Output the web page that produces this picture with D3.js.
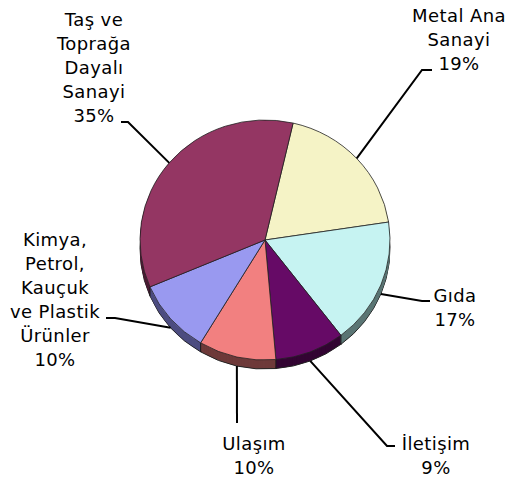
<!DOCTYPE html>
<html>
<head>
<meta charset="utf-8">
<script src="https://cdn.jsdelivr.net/npm/d3@7"></script>
<style>
	body { margin: 0; background: #fff; }
	text { font-family: "DejaVu Sans", Verdana, sans-serif; font-size: 18px; fill: #000; letter-spacing: 0.4px; }
</style>
</head>
<body>
<svg id="svg_pie" width="510" height="479"></svg>
<script>
// slices, clockwise from the top-right
var categories = ["Metal Ana Sanayi", "Gıda", "İletişim", "Ulaşım",
	"Kimya, Petrol, Kauçuk ve Plastik Ürünler", "Taş ve Toprağa Dayalı Sanayi"];
var values = [19, 17, 9, 10, 10, 35];
var labelLines = [
	["Metal Ana", "Sanayi"],
	["Gıda"],
	["İletişim"],
	["Ulaşım"],
	["Kimya,", "Petrol,", "Kauçuk", "ve Plastik", "Ürünler"],
	["Taş ve", "Toprağa", "Dayalı", "Sanayi"]
];
var topColors = ["#F5F3C6", "#C6F3F2", "#660A66", "#F28080", "#9999F0", "#943663"];
var sideColors = ["#7A7963", "#5A7574", "#330533", "#6E3A3A", "#4C4C80", "#4A1B33"];

// label placement: text centre x, first baseline, leader elbow and end
var labelPos = [
	{ x: 459, y: 22, elbow: [422, 70], end: [432, 70] },
	{ x: 455, y: 302, elbow: [422, 301], end: [430, 301] },
	{ x: 436, y: 450, elbow: [387, 446], end: [395, 446] },
	{ x: 254, y: 450, elbow: [237, 423], end: [237, 423] },
	{ x: 55, y: 246, elbow: [115, 318], end: [106, 318] },
	{ x: 94, y: 26, elbow: [128, 122], end: [121, 122] }
];

var svg = d3.select("#svg_pie"),
	cx = 265, cy = 240,
	rx = 125, ry = 120,
	depth = 9,
	lineH = 24;

var start = 13 * Math.PI / 180;
var pie = d3.pie().sort(null).value(function(d) { return d; })
	.startAngle(start).endAngle(start + 2 * Math.PI);
var arcs = pie(values);
var arc = d3.arc().innerRadius(0).outerRadius(ry);

function edge(a, dy) {
	return [cx + rx * Math.sin(a), cy - ry * Math.cos(a) + (dy || 0)];
}

// side of the pie: stacked copies shifted down
for (var k = depth; k >= 1; --k) {
	var g = svg.append("g")
		.attr("transform", "translate(" + cx + "," + (cy + k) + ") scale(" + (rx / ry) + ",1)");
	g.selectAll("path").data(arcs).enter().append("path")
		.attr("d", arc)
		.attr("fill", function(d, i) { return sideColors[i]; })
		.attr("stroke", k == depth ? "#222" : "none")
		.attr("stroke-width", 1)
		.attr("vector-effect", "non-scaling-stroke");
}

// dark seams between slices on the visible side
arcs.forEach(function(d) {
	var a = d.startAngle;
	if (Math.cos(a) < 0.1) {
		var p = edge(a);
		svg.append("line")
			.attr("x1", p[0]).attr("y1", p[1])
			.attr("x2", p[0]).attr("y2", p[1] + depth)
			.attr("stroke", "#1a1a1a").attr("stroke-width", 1);
	}
});

// top face
var topFace = svg.append("g")
	.attr("transform", "translate(" + cx + "," + cy + ") scale(" + (rx / ry) + ",1)");
topFace.selectAll("path").data(arcs).enter().append("path")
	.attr("d", arc)
	.attr("fill", function(d, i) { return topColors[i]; })
	.attr("stroke", "#222")
	.attr("stroke-width", 0.8)
	.attr("vector-effect", "non-scaling-stroke");

// leader lines
var leader = d3.line();
arcs.forEach(function(d, i) {
	var mid = (d.startAngle + d.endAngle) / 2;
	var p = edge(mid, Math.cos(mid) < -0.3 ? depth : 0);
	var pos = labelPos[i];
	svg.append("path")
		.attr("d", leader([p, pos.elbow, pos.end]))
		.attr("fill", "none")
		.attr("stroke", "#000")
		.attr("stroke-width", 2);
});

// labels
arcs.forEach(function(d, i) {
	var pos = labelPos[i];
	var lines = labelLines[i].concat([values[i] + "%"]);
	var t = svg.append("text").attr("text-anchor", "middle");
	lines.forEach(function(s, j) {
		t.append("tspan").attr("x", pos.x).attr("y", pos.y + j * lineH).text(s);
	});
});
</script>
</body>
</html>
